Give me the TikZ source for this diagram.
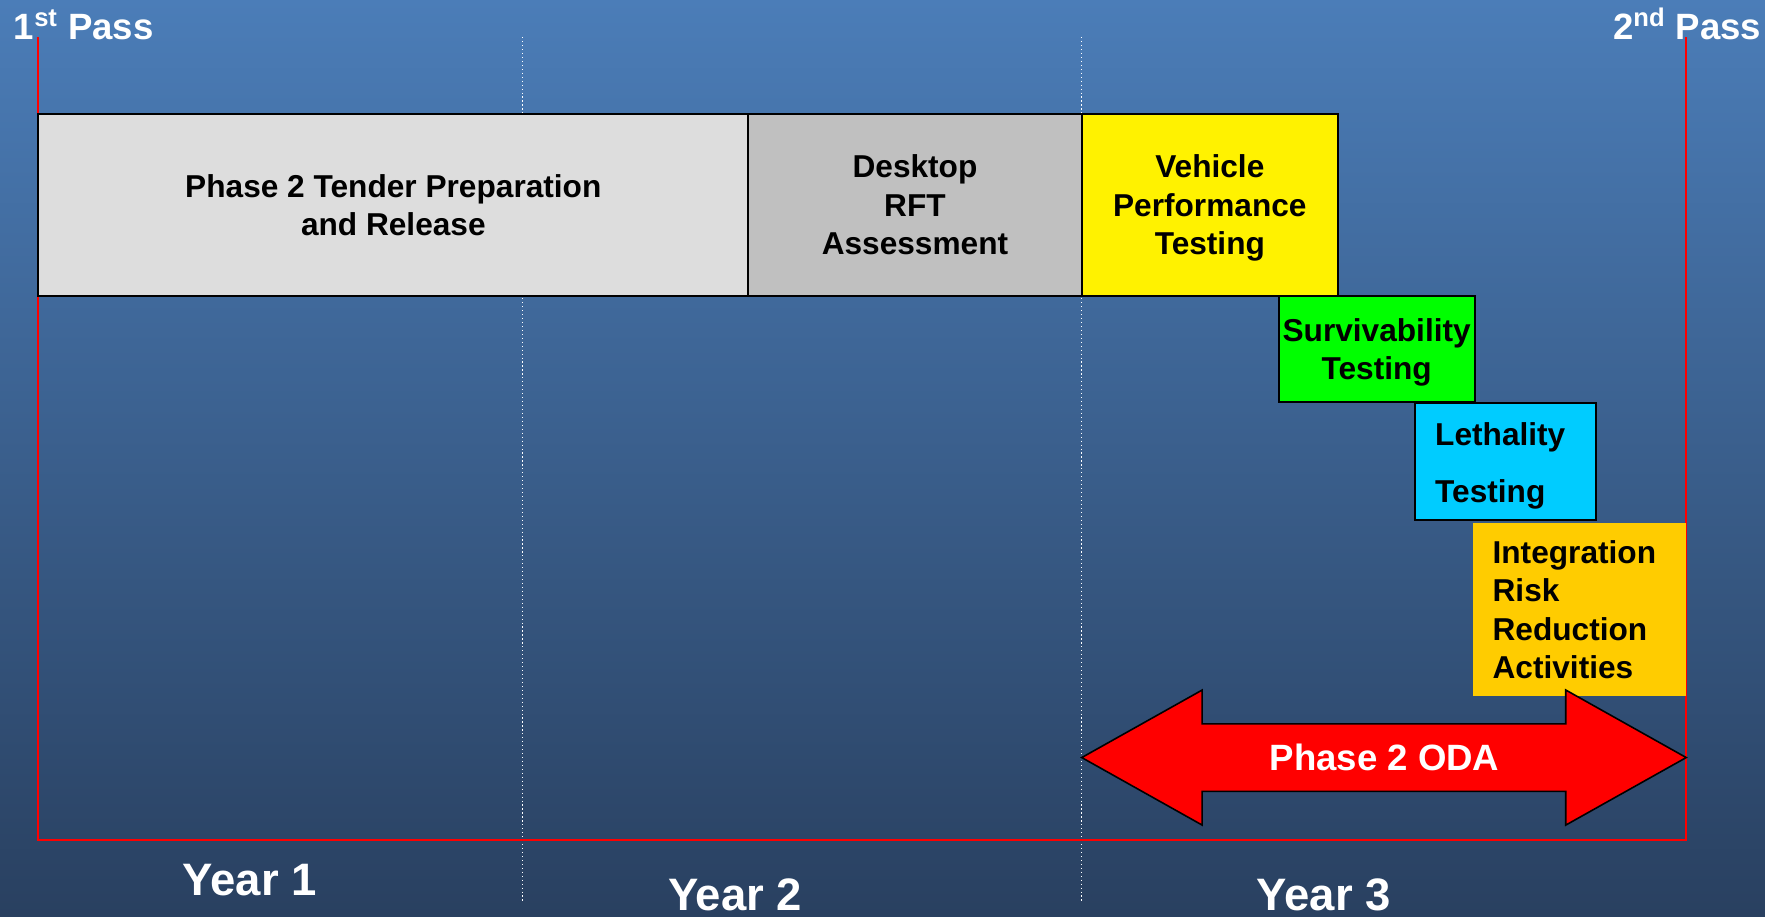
\documentclass[tikz,border=0pt]{standalone}
\usepackage{fontspec}
\setmainfont{Liberation Sans}

\definecolor{bgtop}{RGB}{75,125,184}
\definecolor{bgmid}{RGB}{60,98,148}
\definecolor{bgbot}{RGB}{41,64,96}
\definecolor{tendergrey}{RGB}{221,221,221}
\definecolor{rftgrey}{RGB}{192,192,192}
\definecolor{survgreen}{RGB}{0,255,0}
\definecolor{lethblue}{RGB}{0,204,255}
\definecolor{irrorange}{RGB}{255,204,0}

\tikzset{
  task/.style={draw=black, line width=1pt, anchor=north west, inner sep=0pt, outer sep=0pt,
    align=center, text depth=-0.06cm, font=\fontsize{16}{19.4}\selectfont\bfseries},
  listtask/.style={task, align=left, text depth=},
  yearlbl/.style={text=white, inner sep=0pt, font=\fontsize{23}{27}\selectfont\bfseries},
  passlbl/.style={text=white, inner sep=0pt, font=\fontsize{18.5}{22}\selectfont\bfseries}
}

\begin{document}
\begin{tikzpicture}[x=0.02cm, y=-0.02cm]
		\shade[top color=bgtop, middle color=bgmid, bottom color=bgbot] (0,0) rectangle (1568,814);
		\useasboundingbox (0,0) rectangle (1568,814);
		% year dividers
		\draw[white, line width=0.6pt, dash pattern=on 0.6pt off 1.4pt] (464,33) -- (464,800);
		\draw[white, line width=0.6pt, dash pattern=on 0.6pt off 1.4pt] (961,33) -- (961,800);
		% pass frame
		\draw[red, line width=1.1pt] (34,33) -- (34,746) -- (1498,746) -- (1498,33);
		\node[passlbl, anchor=base west] (pass1) at (12,35) {1\textsuperscript{st} Pass};
		\node[passlbl, anchor=base east] (pass2) at (1565,35) {2\textsuperscript{nd} Pass};
		% tasks
		\node[task, fill=tendergrey, minimum width=12.62cm, minimum height=3.24cm] (tender) at (34,101) {Phase 2 Tender Preparation\\and Release};
		\node[task, fill=rftgrey, minimum width=5.92cm, minimum height=3.24cm] (rft) at (tender.north east) {Desktop\\RFT\\Assessment};
		\node[task, fill=yellow, minimum width=4.56cm, minimum height=3.24cm] (vehicle) at (rft.north east) {Vehicle\\Performance\\Testing};
		\node[task, fill=survgreen, minimum width=3.48cm, minimum height=1.88cm] (surv) at (1136,263) {Survivability\\Testing};
		\node[listtask, fill=lethblue, inner xsep=0.36cm, text width=2.5cm, minimum height=2.08cm,
			font=\fontsize{16}{28.5}\selectfont\bfseries] (leth) at (1257,358) {\rule{0pt}{16.2pt}Lethality\\Testing};
		\node[listtask, draw=none, fill=irrorange, inner xsep=0.34cm, text width=3.1cm, minimum height=3.06cm] (irr) at (1309,465) {Integration\\Risk\\Reduction\\Activities};
		% ODA arrow
		\draw[fill=red, line width=0.8pt, line join=miter] (961,673) -- (1068,613) -- (1068,643) -- (1391,643) -- (1391,613) -- (1498,673)
			-- (1391,733) -- (1391,703) -- (1068,703) -- (1068,733) -- cycle;
		\node[passlbl] (oda) at (1230,673) {Phase 2 ODA};
		% years
		\node[yearlbl] (year1) at (222,782) {Year 1};
		\node[yearlbl] (year2) at (653,795) {Year 2};
		\node[yearlbl] (year3) at (1176,795) {Year 3};
	\end{tikzpicture}
\end{document}
